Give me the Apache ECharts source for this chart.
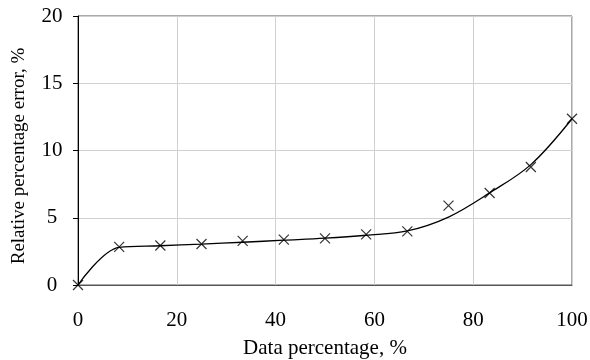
<!DOCTYPE html>
<html><head><meta charset="utf-8">
<script src="https://cdn.jsdelivr.net/npm/echarts@6/dist/echarts.min.js"></script>
<style>html,body{margin:0;padding:0;background:#fff}#c{width:590px;height:360px}</style>
</head><body><div id="c"></div>
<script>
const xTicks = [0, 20, 40, 60, 80, 100];
const yTicks = [0, 5, 10, 15, 20];
const dataX = [0, 8.33, 16.67, 25, 33.33, 41.67, 50, 58.33, 66.67, 75, 83.33, 91.67, 100];
const errorPoints = [0, 2.83, 2.94, 3.05, 3.28, 3.37, 3.47, 3.76, 3.99, 5.9, 6.84, 8.77, 12.36];
const trendValues = [0, 2.8, 2.92, 3.04, 3.18, 3.33, 3.48, 3.7, 4.02, 5.05, 6.85, 8.95, 12.36];

const chart = echarts.init(document.getElementById('c'));
const font = '"Liberation Serif", "Times New Roman", serif';
chart.setOption({
  animation: false,
  textStyle: { fontFamily: font },
  grid: { left: 78, right: 18, top: 16, bottom: 75, show: true, borderColor: '#555', borderWidth: 1, outerBoundsMode: 'none', containLabel: false },
  xAxis: {
    type: 'value', min: xTicks[0], max: xTicks[xTicks.length - 1], interval: 20,
    name: 'Data percentage, %', nameLocation: 'middle', nameGap: 53,
    nameTextStyle: { fontFamily: font, fontSize: 21, color: '#000' },
    axisLine: { lineStyle: { color: '#555' } },
    axisTick: { show: false },
    axisLabel: { fontFamily: font, fontSize: 21, color: '#000', margin: 25 },
    splitLine: { lineStyle: { color: '#d0d0d0', width: 1 } }
  },
  yAxis: {
    type: 'value', min: yTicks[0], max: yTicks[yTicks.length - 1], interval: 5,
    name: 'Relative percentage error, %', nameLocation: 'middle', nameGap: 49,
    nameTextStyle: { fontFamily: font, fontSize: 19, color: '#000', padding: [0, 11, 0, 0] },
    axisLine: { show: true, lineStyle: { color: '#000' } },
    axisTick: { show: true, inside: false, length: 5, lineStyle: { color: '#000' } },
    axisLabel: { fontFamily: font, fontSize: 21, color: '#000', margin: 26, align: 'center' },
    splitLine: { lineStyle: { color: '#d0d0d0', width: 1 } }
  },
  series: [
    {
      type: 'line', data: dataX.map((x, i) => [x, trendValues[i]]),
      smooth: 0.35, showSymbol: false, symbol: 'none',
      lineStyle: { color: '#000', width: 1.3 }, z: 2
    },
    {
      type: 'scatter', data: dataX.map((x, i) => [x, errorPoints[i]]),
      symbol: 'path://M0,0L10,10M10,0L0,10', symbolSize: 10,
      itemStyle: { color: 'transparent', borderColor: '#000', borderWidth: 1.2 }, z: 3
    }
  ]
});
</script></body></html>
